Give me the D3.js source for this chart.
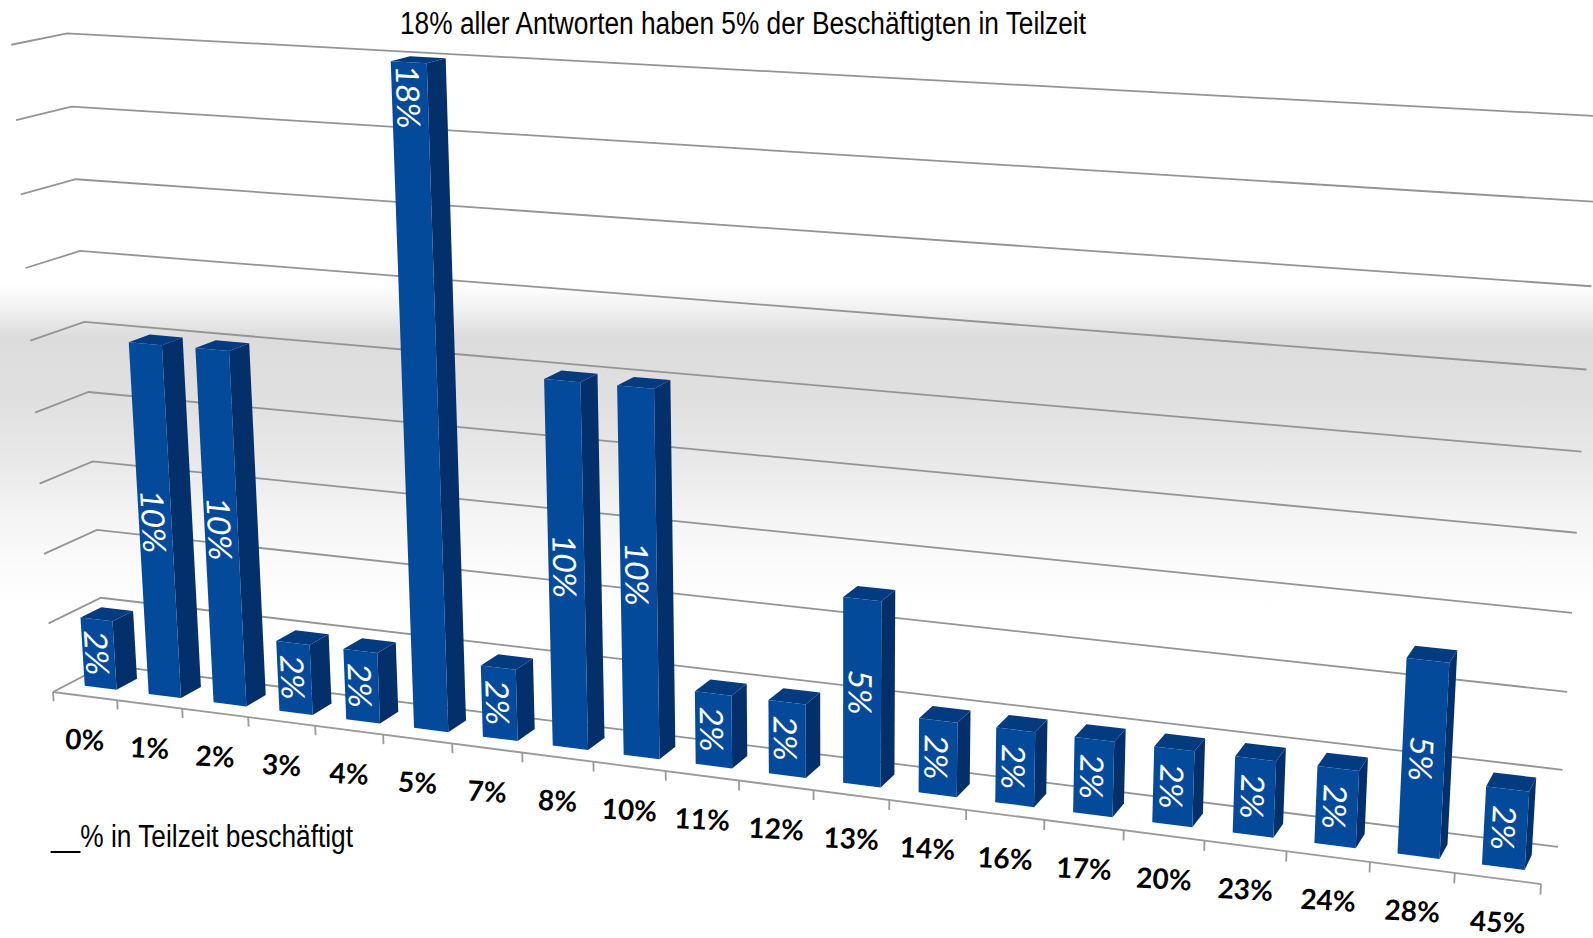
<!DOCTYPE html>
<html>
<head>
<meta charset="utf-8">
<style>
html, body { margin: 0; padding: 0; background: #fff; }
svg { display: block; }
text { font-family: "Lato", sans-serif; }
</style>
</head>
<body>
<svg width="1593" height="938"></svg>
<script src="https://d3js.org/d3.v7.min.js"></script>
<script>
var categories = ["0%", "1%", "2%", "3%", "4%", "5%", "7%", "8%", "10%", "11%", "12%", "13%", "14%", "16%", "17%", "20%", "23%", "24%", "28%", "45%"];
var values = [2, 10, 10, 2, 2, 18, 2, 10, 10, 2, 2, 5, 2, 2, 2, 2, 2, 2, 5, 2];
var gridLevels = [0, 2, 4, 6, 8, 10, 12, 14, 16, 18];
var titleText = "18% aller Antworten haben 5% der Beschäftigten in Teilzeit";
var axisText = "__% in Teilzeit beschäftigt";

var svg = d3.select("svg");

// world coords: t along the categories, d front to back wall, z height (0..1)
var tScale = d3.scaleBand().domain(categories).range([0, categories.length])
  .paddingInner(0.5).paddingOuter(0.25);
var zScale = d3.scaleLinear().domain([0, 18]).range([0, 1]);
var depthFront = 0.30, depthBack = 0.70, shiftT = 0;

// camera matrix fitted to the corners of the 3d box
function project(t, d, z) {
  var w = 1 - 0.00723 * t + 0.0258 * d - 0.0504 * z;
  return [
    (53 + 63.26 * t + 54.7 * d - 42.3 * z) / w,
    (692 + 3.21 * t - 10 * d - 649.5 * z) / w
  ];
}

var line = d3.line();
function face(pts) { return line(pts.map(function(p) { return project(p[0], p[1], p[2]); })) + "Z"; }

var defs = svg.append("defs");
var grad = defs.append("linearGradient").attr("id", "bg").attr("x1", 0).attr("x2", 0).attr("y1", 0).attr("y2", 1);
[[0.304, "#ffffff"], [0.334, "#eeeeee"], [0.359, "#dcdcdc"], [0.426, "#e0e0e0"], [0.501, "#eaeaea"], [0.554, "#f5f5f5"], [0.608, "#fbfbfb"], [0.65, "#ffffff"]]
  .forEach(function(s) { grad.append("stop").attr("offset", s[0]).attr("stop-color", s[1]); });
svg.append("rect").attr("width", 1593).attr("height", 938).attr("fill", "url(#bg)");

// grid on side and back wall
var tEnd = categories.length;
svg.append("g").selectAll("path").data(gridLevels).join("path")
  .attr("fill", "none").attr("stroke", "#949494").attr("stroke-width", 1.8)
  .attr("d", function(v) {
    var z = zScale(v);
    return line([project(0, 0, z), project(0, 1, z), project(tEnd, 1, z)]);
  });

// front axis with ticks
var axis = svg.append("g").attr("stroke", "#9a9a9a").attr("stroke-width", 1.8).attr("fill", "none");
axis.append("path").attr("d", line([project(0, 0, 0), project(tEnd, 0, 0)]));
axis.selectAll("path.tick").data(d3.range(tEnd + 1)).join("path").attr("class", "tick")
  .attr("d", function(i) { return line([project(i, 0, 0), project(i, 0, zScale(-0.27))]); });

svg.append("g").selectAll("text").data(categories).join("text")
  .attr("text-anchor", "middle")
  .attr("font-weight", 700).attr("font-size", 28).attr("fill", "#000")
  .attr("transform", function(c) {
    var p = project(tScale(c) + tScale.bandwidth() / 2, 0, 0);
    return "translate(" + p[0] + "," + (p[1] + 43.5) + ") rotate(3)";
  })
  .attr("dy", "0.36em")
  .text(function(c) { return c; });

// bars, left to right
var bars = svg.append("g").selectAll("g").data(categories).join("g");
var w = tScale.bandwidth();
bars.append("path").attr("fill", "#032f6b").attr("d", function(c, i) {
  var t1 = tScale(c) + w + shiftT, z = zScale(values[i]);
  return face([[t1, depthFront, 0], [t1, depthBack, 0], [t1, depthBack, z], [t1, depthFront, z]]);
});
bars.append("path").attr("fill", "#033b80").attr("d", function(c, i) {
  var t0 = tScale(c) + shiftT, t1 = t0 + w, z = zScale(values[i]);
  return face([[t0, depthFront, z], [t1, depthFront, z], [t1, depthBack, z], [t0, depthBack, z]]);
});
bars.append("path").attr("fill", "#034a9b").attr("d", function(c, i) {
  var t0 = tScale(c) + shiftT, t1 = t0 + w, z = zScale(values[i]);
  return face([[t0, depthFront, 0], [t1, depthFront, 0], [t1, depthFront, z], [t0, depthFront, z]]);
});

// value labels lie on the front face, the tallest one sits at its top end
var maxVal = d3.max(values);
bars.append("text")
  .attr("text-anchor", "middle").attr("dy", "0.42em")
  .attr("font-size", 32).attr("fill", "#fff")
  .attr("transform", function(c, i) {
    var t0 = tScale(c) + shiftT, t1 = t0 + w, tm = (t0 + t1) / 2;
    var z = zScale(values[i]) * (values[i] === maxVal ? 0.95 : 0.5);
    var p = project(tm, depthFront, z);
    var a = project(tm, depthFront, 0), b = project(tm, depthFront, zScale(values[i]));
    var l = project(t0, depthFront, z), r = project(t1, depthFront, z);
    var len = Math.hypot(a[0] - b[0], a[1] - b[1]);
    var ux = (a[0] - b[0]) / len, uy = (a[1] - b[1]) / len;
    var vlen = Math.abs(r[0] - l[0]);
    var vx = (l[0] - r[0]) / vlen, vy = (l[1] - r[1]) / vlen;
    return "matrix(" + [ux, uy, vx, vy, p[0], p[1]].join(",") + ")";
  })
  .text(function(c, i) { return values[i] + "%"; });

svg.append("text").attr("x", 400).attr("y", 33.5)
  .style("font-family", "'Liberation Sans', Arial, sans-serif")
  .attr("font-size", 31).attr("fill", "#000")
  .attr("textLength", 686).attr("lengthAdjust", "spacingAndGlyphs")
  .text(titleText);

svg.append("text").attr("x", 51).attr("y", 847)
  .style("font-family", "'Liberation Sans', Arial, sans-serif")
  .attr("font-size", 31).attr("fill", "#000")
  .attr("textLength", 302).attr("lengthAdjust", "spacingAndGlyphs")
  .text(axisText);
</script>
</body>
</html>
